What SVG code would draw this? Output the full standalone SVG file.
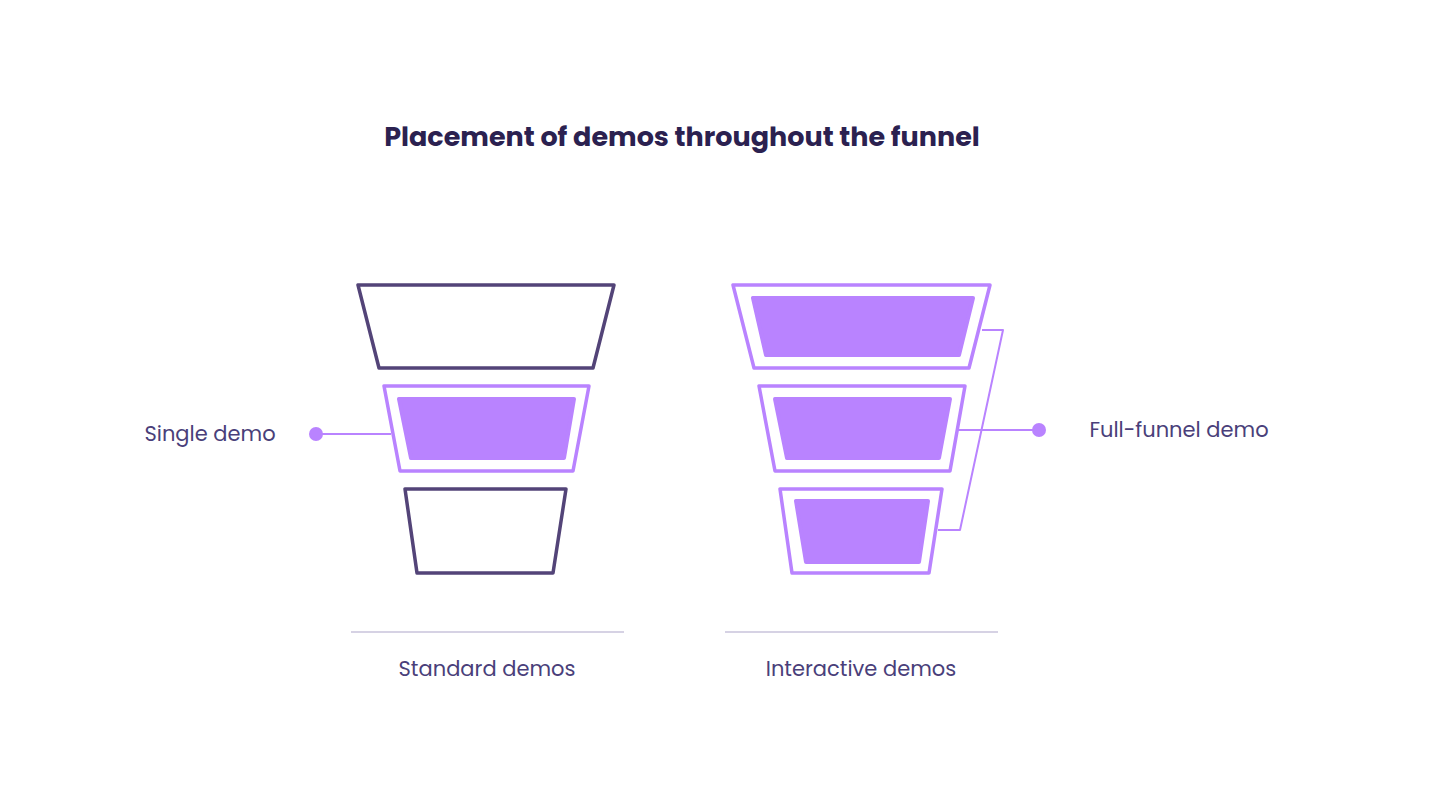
<svg xmlns="http://www.w3.org/2000/svg" width="1440" height="810" viewBox="0 0 1440 810">
<style>
.t{font-family:Poppins,"Open Sans","Liberation Sans",sans-serif;fill:#4a3f7a;font-size:21px}
.dk{fill:none;stroke:#534478;stroke-width:3.5;stroke-linejoin:round}
.lt{fill:#fff;stroke:#b983ff;stroke-width:3.5;stroke-linejoin:round}
.in{fill:#b983ff;stroke:#b983ff;stroke-width:4;stroke-linejoin:round}
.ln{fill:none;stroke:#b983ff;stroke-width:2;stroke-linejoin:round}
</style>
<rect width="1440" height="810" fill="#fff"/>
<text x="682" y="146" text-anchor="middle" font-family="Poppins,'Open Sans','Liberation Sans',sans-serif" font-weight="700" font-size="27" fill="#2b2150">Placement of demos throughout the funnel</text>
<g id="connectors">
<path class="ln" d="M316 434H391"/>
<path class="ln" d="M982 330H1003L960 530H938"/>
<path class="ln" d="M958 430H1039"/>
<circle cx="316" cy="434" r="7" fill="#b983ff"/>
<circle cx="1039" cy="430" r="7" fill="#b983ff"/>
</g>
<g id="std-top"><path class="dk" d="M358 285H614L593 368H379Z"/></g>
<g id="std-mid"><path class="lt" d="M384 386H589L573 471H400Z"/><path class="in" d="M399 399H574L564 458H411Z"/></g>
<g id="std-bot"><path class="dk" d="M405 489H566L553 573H417Z"/></g>
<g id="int-top"><path class="lt" d="M733 285H990L969 368H754Z"/><path class="in" d="M753 298H973L959 355H766Z"/></g>
<g id="int-mid"><path class="lt" d="M759 386H965L950 471H775Z"/><path class="in" d="M775 399H950L939 458H787Z"/></g>
<g id="int-bot"><path class="lt" d="M780 489H942L929 573H792Z"/><path class="in" d="M796 501H928L919 562H806Z"/></g>
<g id="labels">
<path d="M351 632H624M725 632H998" stroke="#c9c3dc" stroke-width="1.5"/>
<text class="t" x="210" y="441" text-anchor="middle">Single demo</text>
<text class="t" x="1179" y="437" text-anchor="middle">Full-funnel demo</text>
<text class="t" x="487" y="676" text-anchor="middle">Standard demos</text>
<text class="t" x="861" y="676" text-anchor="middle">Interactive demos</text>
</g>
</svg>
